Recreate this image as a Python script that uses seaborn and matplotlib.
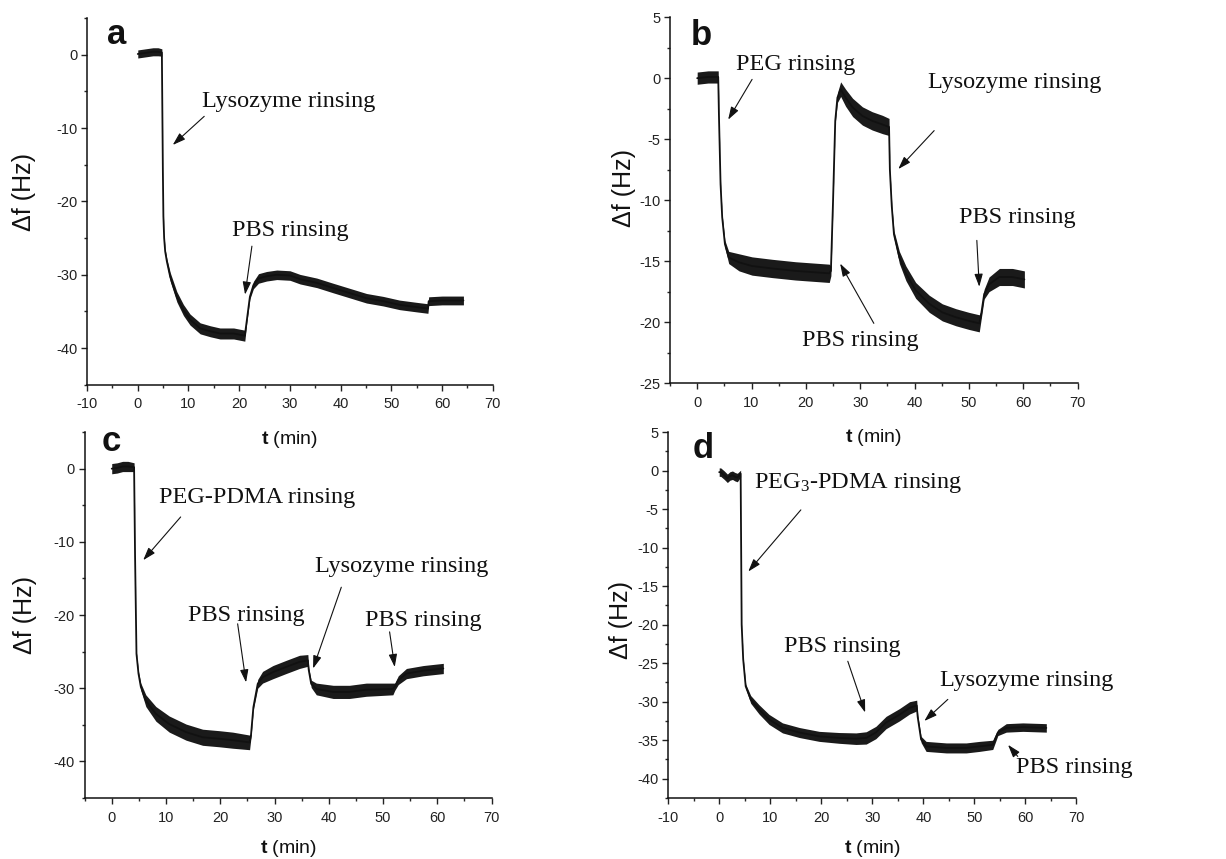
import numpy as np
import pandas as pd
import matplotlib
matplotlib.use("Agg")
import matplotlib.pyplot as plt
import seaborn as sns

# ---------------- data ----------------
# panel a
ta = [0, 1, 2, 3, 4, 4.75, 4.85, 4.95, 5.05, 5.2, 5.4, 5.74, 6.4, 7.7, 9.0, 10.3, 12.3, 14.3,
      16.2, 18.9, 21.1, 21.5, 22.1, 22.8, 23.8, 25.4, 27.4, 30.0, 32.0, 35.3, 38.5, 41.8, 45.1,
      48.4, 51.6, 54.9, 57.2, 57.35, 60, 64.2]
fa = [0.1, 0.2, 0.3, 0.4, 0.4, 0.3, -8, -16, -22, -25, -26.8, -28.2, -30.3, -33, -34.8, -36.1,
      -37.3, -37.7, -38, -38, -38.3, -36.2, -33, -31.4, -30.5, -30.2, -30, -30.1, -30.6, -31.1,
      -31.8, -32.5, -33.2, -33.6, -34.1, -34.4, -34.6, -33.6, -33.5, -33.5]
wa = [0.55, 0.55, 0.55, 0.55, 0.55, 0.5, 0.2, 0.2, 0.2, 0.25, 0.3, 0.4, 0.6, 0.7, 0.75, 0.75,
      0.75, 0.75, 0.75, 0.75, 0.75, 0.3, 0.3, 0.5, 0.65, 0.65, 0.65, 0.65, 0.65, 0.65, 0.65,
      0.65, 0.65, 0.65, 0.65, 0.65, 0.65, 0.6, 0.6, 0.6]

# panel b
tb = [0, 1, 2, 3, 3.87, 4.0, 4.3, 4.6, 5.1, 5.8, 7.7, 10.1, 13.8, 18.1, 21.2, 24.3, 24.6, 25.0,
      25.4, 25.8, 26.4, 27.3, 28.6, 30.4, 32.2, 34.1, 35.3, 35.45, 35.8, 36.2, 37.2, 38.4, 40.2,
      42.7, 45.1, 47.6, 50.0, 51.9, 52.2, 52.8, 53.7, 55.6, 58.0, 60.2]
fb = [0, 0.05, 0.1, 0.1, 0.1, -3, -8.7, -11.4, -13.6, -14.7, -15.1, -15.4, -15.6, -15.8, -15.9,
      -16.0, -15.8, -10, -3.5, -1.6, -0.9, -1.6, -2.4, -3.1, -3.5, -3.8, -4.0, -7.5, -10.5,
      -12.8, -14.7, -16.0, -17.4, -18.5, -19.2, -19.6, -19.9, -20.1, -19.5, -17.7, -16.9,
      -16.3, -16.3, -16.5]
wb = [0.5, 0.5, 0.5, 0.5, 0.5, 0.3, 0.2, 0.2, 0.3, 0.5, 0.7, 0.75, 0.75, 0.75, 0.75, 0.75, 0.4,
      0.2, 0.2, 0.4, 0.6, 0.7, 0.75, 0.75, 0.75, 0.75, 0.7, 0.2, 0.2, 0.3, 0.5, 0.6, 0.65, 0.7,
      0.7, 0.7, 0.7, 0.7, 0.4, 0.4, 0.6, 0.7, 0.7, 0.7]

# panel c
tc = [0, 1, 2, 3, 4.12, 4.3, 4.56, 4.93, 5.36, 6.28, 8.13, 10.6, 13.7, 16.75, 19.8, 22.3, 25.4,
      25.65, 26.1, 26.9, 27.8, 29.7, 32.1, 34.6, 36.14, 36.3, 36.75, 37.7, 40.8, 43.8, 46.9,
      51.8, 52.15, 52.8, 54.3, 57.4, 61.1]
fc = [0, 0.1, 0.3, 0.3, 0.2, -12, -25.3, -28, -29.8, -31.7, -33.5, -34.9, -36, -36.7, -36.9,
      -37.1, -37.4, -36.5, -32.6, -29.4, -28.5, -27.8, -27.1, -26.4, -26.2, -27.5, -29.4,
      -30.1, -30.5, -30.5, -30.2, -30.1, -29.8, -28.9, -28, -27.6, -27.3]
wc = [0.7, 0.7, 0.7, 0.7, 0.6, 0.2, 0.2, 0.3, 0.5, 0.8, 1.0, 1.1, 1.1, 1.1, 1.1, 1.1, 1.0, 0.3,
      0.3, 0.6, 0.8, 0.9, 0.9, 0.9, 0.8, 0.3, 0.5, 0.8, 0.9, 0.9, 0.9, 0.8, 0.5, 0.6, 0.7, 0.7,
      0.7]

# panel d
td = [0, 0.3, 1.0, 1.6, 2.1, 2.6, 3.1, 3.55, 4.2, 4.3, 4.4, 4.7, 5.19, 6.17, 7.81, 9.77, 12.4,
      15.7, 19.6, 23.5, 26.8, 28.8, 30.7, 32.7, 35.3, 37.3, 38.7, 38.9, 39.56, 40.54, 44.5,
      48.4, 51.0, 53.6, 54.6, 56.25, 59.5, 64.1]
fd = [-0.2, -0.2, -0.6, -1.0, -0.7, -0.6, -0.8, -0.9, -0.4, -10, -20, -24.5, -28, -29.7, -31,
      -32.3, -33.4, -34, -34.5, -34.7, -34.8, -34.7, -34, -32.7, -31.7, -30.8, -30.5, -32,
      -34.9, -35.8, -36, -36, -35.8, -35.6, -34, -33.4, -33.3, -33.4]
wd = [0.55, 0.55, 0.55, 0.55, 0.55, 0.55, 0.55, 0.55, 0.45, 0.2, 0.2, 0.2, 0.3, 0.5, 0.6, 0.65,
      0.65, 0.65, 0.65, 0.7, 0.75, 0.8, 0.8, 0.8, 0.8, 0.8, 0.7, 0.3, 0.4, 0.65, 0.65, 0.65,
      0.65, 0.6, 0.4, 0.55, 0.55, 0.55]

panel_letters = ["a", "b", "c", "d"]
xlabel_text = r"$\mathbf{t}$ (min)"
ylabel_text = "Δf (Hz)"

# annotations: (text, text_x, text_y, arrow_from_x, arrow_from_y, arrow_to_x, arrow_to_y)
ann_a = [("Lysozyme rinsing", 12.6, -6.4, 13.1, -8.4, 6.9, -12.3),
         ("PBS rinsing", 18.5, -23.9, 22.5, -26.1, 21.15, -32.7)]
ann_b = [("PEG rinsing", 7.06, 1.15, 10.1, -0.1, 5.7, -3.4),
         ("Lysozyme rinsing", 42.4, -0.35, 43.6, -4.3, 37.0, -7.45),
         ("PBS rinsing", 48.2, -11.4, 51.45, -13.3, 51.9, -17.1),
         ("PBS rinsing", 19.3, -21.5, 32.5, -20.1, 26.3, -15.2)]
ann_c = [("PEG-PDMA rinsing", 8.7, -3.9, 12.7, -6.6, 5.8, -12.5),
         ("PBS rinsing", 14.0, -20.0, 23.2, -21.2, 24.75, -29.2),
         ("Lysozyme rinsing", 37.4, -13.4, 42.3, -16.2, 37.1, -27.3),
         ("PBS rinsing", 46.6, -20.7, 51.2, -22.3, 52.15, -27.1)]
ann_d = [(r"PEG$_{\mathrm{3}}$-PDMA rinsing", 6.8, -1.6, 16.0, -5.1, 5.7, -13.1),
         ("PBS rinsing", 12.7, -22.8, 25.2, -24.75, 28.6, -31.4),
         ("Lysozyme rinsing", 43.2, -27.3, 44.8, -29.7, 40.2, -32.5),
         ("PBS rinsing", 58.2, -38.6, 58.5, -37.1, 56.6, -35.6)]

# ---------------- style ----------------
sns.set_theme(style="ticks")
plt.rcParams["font.family"] = ["Liberation Sans", "DejaVu Sans"]
plt.rcParams["mathtext.fontset"] = "custom"
plt.rcParams["mathtext.rm"] = "Liberation Serif"
plt.rcParams["mathtext.bf"] = "Liberation Sans:bold"
plt.rcParams["mathtext.it"] = "Liberation Serif:italic"
plt.rcParams["axes.linewidth"] = 1.1

fig = plt.figure(figsize=(12.26, 8.59), dpi=100)
fig.patch.set_facecolor("white")

positions = [
    [0.071, 0.552, 0.331, 0.427],
    [0.5465, 0.554, 0.3325, 0.426],
    [0.069, 0.071, 0.332, 0.426],
    [0.545, 0.071, 0.333, 0.426],
]
series = [(ta, fa, wa), (tb, fb, wb), (tc, fc, wc), (td, fd, wd)]
anns = [ann_a, ann_b, ann_c, ann_d]
xlims = [(-10, 70), (-5, 70), (-5, 70), (-10, 70)]
ylims = [(-45, 5), (-25, 5), (-45, 5), (-42.5, 5)]
ymajor = [np.arange(-40, 1, 10), np.arange(-25, 6, 5), np.arange(-40, 1, 10), np.arange(-40, 6, 5)]
yminor = [np.arange(-45, 6, 5), np.arange(-25, 6, 2.5), np.arange(-45, 6, 5), np.arange(-42.5, 6, 2.5)]
xmajor = [np.arange(-10, 71, 10), np.arange(0, 71, 10), np.arange(0, 71, 10), np.arange(-10, 71, 10)]
xminor = [np.arange(-10, 71, 5), np.arange(-5, 71, 5), np.arange(-5, 71, 5), np.arange(-10, 71, 5)]
letter_pos = [(0.05, 0.93), (0.05, 0.923), (0.042, 0.948), (0.061, 0.929)]
ylab_x = [-0.125, -0.083, -0.118, -0.086]
ylab_y = [0.526, 0.533, 0.5, 0.486]
xlab_y = [-0.12, -0.12, -0.108, -0.108]

for i in range(4):
    ax = fig.add_axes(positions[i])
    ax.set_facecolor("none")
    t, f, w = series[i]
    df = pd.DataFrame({"t": t, "f": f, "w": w})
    ax.fill_between(df["t"], df["f"] - df["w"], df["f"] + df["w"], color="#1a1a1a", lw=0, zorder=2)
    sns.lineplot(data=df, x="t", y="f", ax=ax, color="#111111", lw=1.3, zorder=3)

    ax.set_xlim(*xlims[i])
    ax.set_ylim(*ylims[i])
    ax.set_xticks(xmajor[i])
    ax.set_xticks([v for v in xminor[i] if v not in xmajor[i]], minor=True)
    ax.set_yticks(ymajor[i])
    ax.set_yticks([v for v in yminor[i] if v not in ymajor[i]], minor=True)
    ax.set_xticklabels([f"{int(v)}" for v in xmajor[i]])
    ax.set_yticklabels([f"{int(v)}" for v in ymajor[i]])
    ax.tick_params(axis="both", which="major", direction="out", length=4, width=1.0,
                   labelsize=10.5, colors="#222222", pad=3)
    ax.tick_params(axis="x", which="major", pad=5)
    ax.tick_params(axis="both", which="minor", direction="out", length=2.5, width=1.0)
    sns.despine(ax=ax)
    for s in ["left", "bottom"]:
        ax.spines[s].set_color("#111111")

    ax.set_xlabel(xlabel_text, fontsize=14, color="#111111")
    ax.xaxis.set_label_coords(0.5, xlab_y[i])
    ax.set_ylabel(ylabel_text, fontsize=18, color="#111111")
    ax.yaxis.set_label_coords(ylab_x[i], ylab_y[i])

    lx, ly = letter_pos[i]
    ax.text(lx, ly, panel_letters[i], transform=ax.transAxes, fontsize=25,
            fontweight="bold", va="baseline", ha="left", color="#111111")

    for (txt, tx, ty, ax0, ay0, ax1, ay1) in anns[i]:
        ax.text(tx, ty, txt, fontsize=17.5, family="Liberation Serif", ha="left",
                va="center", color="#111111", zorder=5)
        ax.annotate("", xy=(ax1, ay1), xytext=(ax0, ay0),
                    arrowprops=dict(arrowstyle="-|>,head_length=0.55,head_width=0.18",
                                    mutation_scale=14, lw=0.8, color="#111111",
                                    shrinkA=0, shrinkB=0), zorder=5)

fig.savefig("out.png", dpi=100, facecolor="white")
